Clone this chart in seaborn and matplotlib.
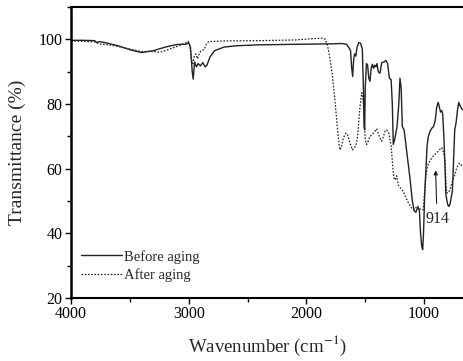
import matplotlib
matplotlib.use("Agg")
import matplotlib.pyplot as plt
import seaborn as sns
import pandas as pd
from matplotlib.ticker import MultipleLocator

# ---- data ----
before_wn = [4000, 3900, 3800, 3780, 3760, 3700, 3600, 3500, 3400, 3300, 3200, 3100, 3020, 3000,
             2985, 2970, 2962, 2950, 2935, 2920, 2900, 2880, 2860, 2845, 2820, 2780, 2700, 2600,
             2400, 2000, 1800, 1700, 1660, 1640, 1625, 1615, 1607, 1598, 1590, 1580, 1570, 1555,
             1540, 1525, 1515, 1510, 1505, 1500, 1490, 1480, 1470, 1460, 1450, 1440, 1430, 1420,
             1410, 1400, 1390, 1375, 1360, 1340, 1325, 1310, 1295, 1280, 1270, 1262, 1250, 1240,
             1230, 1215, 1205, 1195, 1185, 1170, 1150, 1120, 1100, 1085, 1070, 1060, 1050, 1040,
             1030, 1020, 1012, 1005, 995, 984, 975, 964, 950, 935, 920, 905, 893, 880, 870, 860,
             850, 842, 832, 822, 815, 808, 800, 790, 780, 770, 760, 750, 740, 729, 715, 705, 695,
             680, 660]
before_t = [99.7, 99.7, 99.6, 99.0, 99.3, 98.9, 98.0, 96.8, 95.9, 96.5, 97.6, 98.4, 98.5, 99.0,
            97.5, 90.0, 87.7, 93.0, 91.5, 92.5, 91.8, 92.8, 91.5, 92.0, 94.5, 96.5, 97.6, 98.0,
            98.3, 98.5, 98.6, 98.7, 98.5, 97.5, 96.5, 91.0, 88.5, 94.0, 95.5, 94.8, 97.5, 99.0,
            98.8, 97.0, 84.0, 73.0, 72.0, 85.0, 92.5, 92.0, 88.0, 87.0, 91.0, 92.3, 91.0, 92.0,
            91.5, 92.5, 90.0, 89.5, 92.8, 93.0, 93.5, 92.5, 88.0, 87.5, 80.0, 67.5, 69.0, 71.0,
            73.0, 80.0, 88.0, 85.0, 73.0, 72.0, 66.0, 57.0, 50.0, 47.0, 46.5, 47.5, 48.0, 47.0,
            40.0, 36.0, 35.0, 40.0, 52.0, 60.0, 67.0, 70.0, 71.5, 72.5, 73.0, 75.0, 79.0, 80.5,
            79.0, 77.5, 78.0, 77.0, 70.0, 60.0, 52.0, 50.5, 49.0, 48.3, 49.0, 51.0, 53.0, 62.0,
            72.0, 74.0, 78.5, 80.5, 79.5, 78.5, 78.0]

after_wn = [4000, 3900, 3800, 3750, 3700, 3600, 3500, 3400, 3300, 3250, 3200, 3100, 3030, 3005,
            2990, 2975, 2965, 2955, 2940, 2925, 2910, 2895, 2870, 2850, 2830, 2700, 2400, 2100,
            1950, 1860, 1840, 1820, 1800, 1780, 1760, 1745, 1730, 1715, 1700, 1686, 1665, 1650,
            1630, 1610, 1595, 1580, 1565, 1545, 1530, 1520, 1510, 1500, 1488, 1475, 1460, 1440,
            1420, 1403, 1390, 1375, 1360, 1345, 1330, 1318, 1300, 1280, 1265, 1255, 1247, 1233,
            1220, 1200, 1177, 1155, 1134, 1110, 1092, 1075, 1060, 1049, 1035, 1020, 1007, 995,
            985, 970, 950, 921, 890, 865, 850, 835, 822, 815, 808, 795, 780, 765, 750, 737, 720,
            700, 680, 660]
after_t = [99.5, 99.4, 99.2, 98.5, 98.4, 97.8, 97.0, 96.2, 96.3, 96.0, 96.5, 97.8, 98.8, 99.4,
           98.0, 93.5, 92.5, 94.5, 95.5, 94.0, 95.5, 96.5, 96.8, 98.5, 99.3, 99.5, 99.6, 99.8,
           100.2, 100.4, 100.0, 98.0, 94.0, 89.0, 82.0, 76.0, 70.0, 65.8, 67.0, 69.5, 71.0, 70.5,
           68.0, 65.8, 66.5, 67.0, 70.0, 79.0, 83.5, 82.0, 76.0, 69.0, 67.5, 68.5, 70.0, 70.5,
           71.5, 72.3, 71.0, 69.5, 68.5, 70.0, 71.8, 72.0, 71.0, 67.0, 60.0, 57.0, 56.5, 57.8,
           55.0, 54.0, 53.0, 51.0, 49.5, 48.0, 47.3, 47.5, 48.5, 48.2, 47.5, 47.3, 47.3, 53.0,
           58.0, 61.0, 62.5, 64.0, 65.0, 66.0, 66.5, 65.0, 62.5, 56.0, 52.5, 52.5, 53.5, 55.5,
           57.0, 58.5, 60.5, 61.7, 61.0, 61.0]

labels = ["Before aging", "After aging"]
x_ticks = [4000, 3000, 2000, 1000]
y_ticks = [20, 40, 60, 80, 100]
peak_label = "914"

df_before = pd.DataFrame({"Wavenumber": before_wn, "T": before_t})
df_after = pd.DataFrame({"Wavenumber": after_wn, "T": after_t})

sns.set_style("ticks")
plt.rcParams["font.family"] = ["Liberation Serif", "DejaVu Serif"]
plt.rcParams["mathtext.fontset"] = "stix"

fig = plt.figure(figsize=(4.64, 3.61), dpi=100)
ax = fig.add_axes([71 / 464, 1 - 298 / 361, 1 - 71 / 464, (298 - 7) / 361])

sns.lineplot(data=df_before, x="Wavenumber", y="T", ax=ax, color="#222222",
             linewidth=1.0, label=labels[0], sort=False)
sns.lineplot(data=df_after, x="Wavenumber", y="T", ax=ax, color="#222222",
             linewidth=0.9, linestyle=(0, (1.3, 1.3)), label=labels[1], sort=False)

ax.set_xlim(4000, 661)
ax.set_ylim(20, 110)
ax.set_xticks(x_ticks)
ax.set_yticks(y_ticks)
ax.xaxis.set_minor_locator(MultipleLocator(500))
ax.yaxis.set_minor_locator(MultipleLocator(10))
ax.tick_params(axis="both", which="major", direction="out", length=4, width=1.0,
               labelsize=11.5, pad=2, color="black", labelcolor="black")
ax.tick_params(axis="both", which="minor", direction="out", length=3, width=1.0,
               color="black")
ax.tick_params(axis="y", which="minor", left=True)
ax.tick_params(axis="x", which="minor", bottom=True)

for side in ["left", "bottom", "top"]:
    ax.spines[side].set_visible(True)
    ax.spines[side].set_color("black")
ax.spines["left"].set_linewidth(1.8)
ax.spines["bottom"].set_linewidth(1.5)
ax.spines["top"].set_linewidth(1.5)
ax.spines["right"].set_visible(False)

ax.set_xlabel("Wavenumber (cm$^{-1}$)", fontsize=13.5, labelpad=8)
ax.set_ylabel("Transmittance (%)", fontsize=14, labelpad=9)

ax.annotate(peak_label, xy=(902, 59.5), xytext=(890, 44.5), ha="center", va="center",
            fontsize=11.5,
            arrowprops=dict(arrowstyle="-|>", color="#222222", lw=0.8,
                            mutation_scale=6, shrinkA=3, shrinkB=0))

leg = ax.legend(loc="lower left", bbox_to_anchor=(0.0, 0.02), frameon=False,
                fontsize=10.5, handlelength=2.8, handletextpad=0.15,
                labelspacing=0.32, borderaxespad=0.3)

fig.savefig("out.png", dpi=100)
